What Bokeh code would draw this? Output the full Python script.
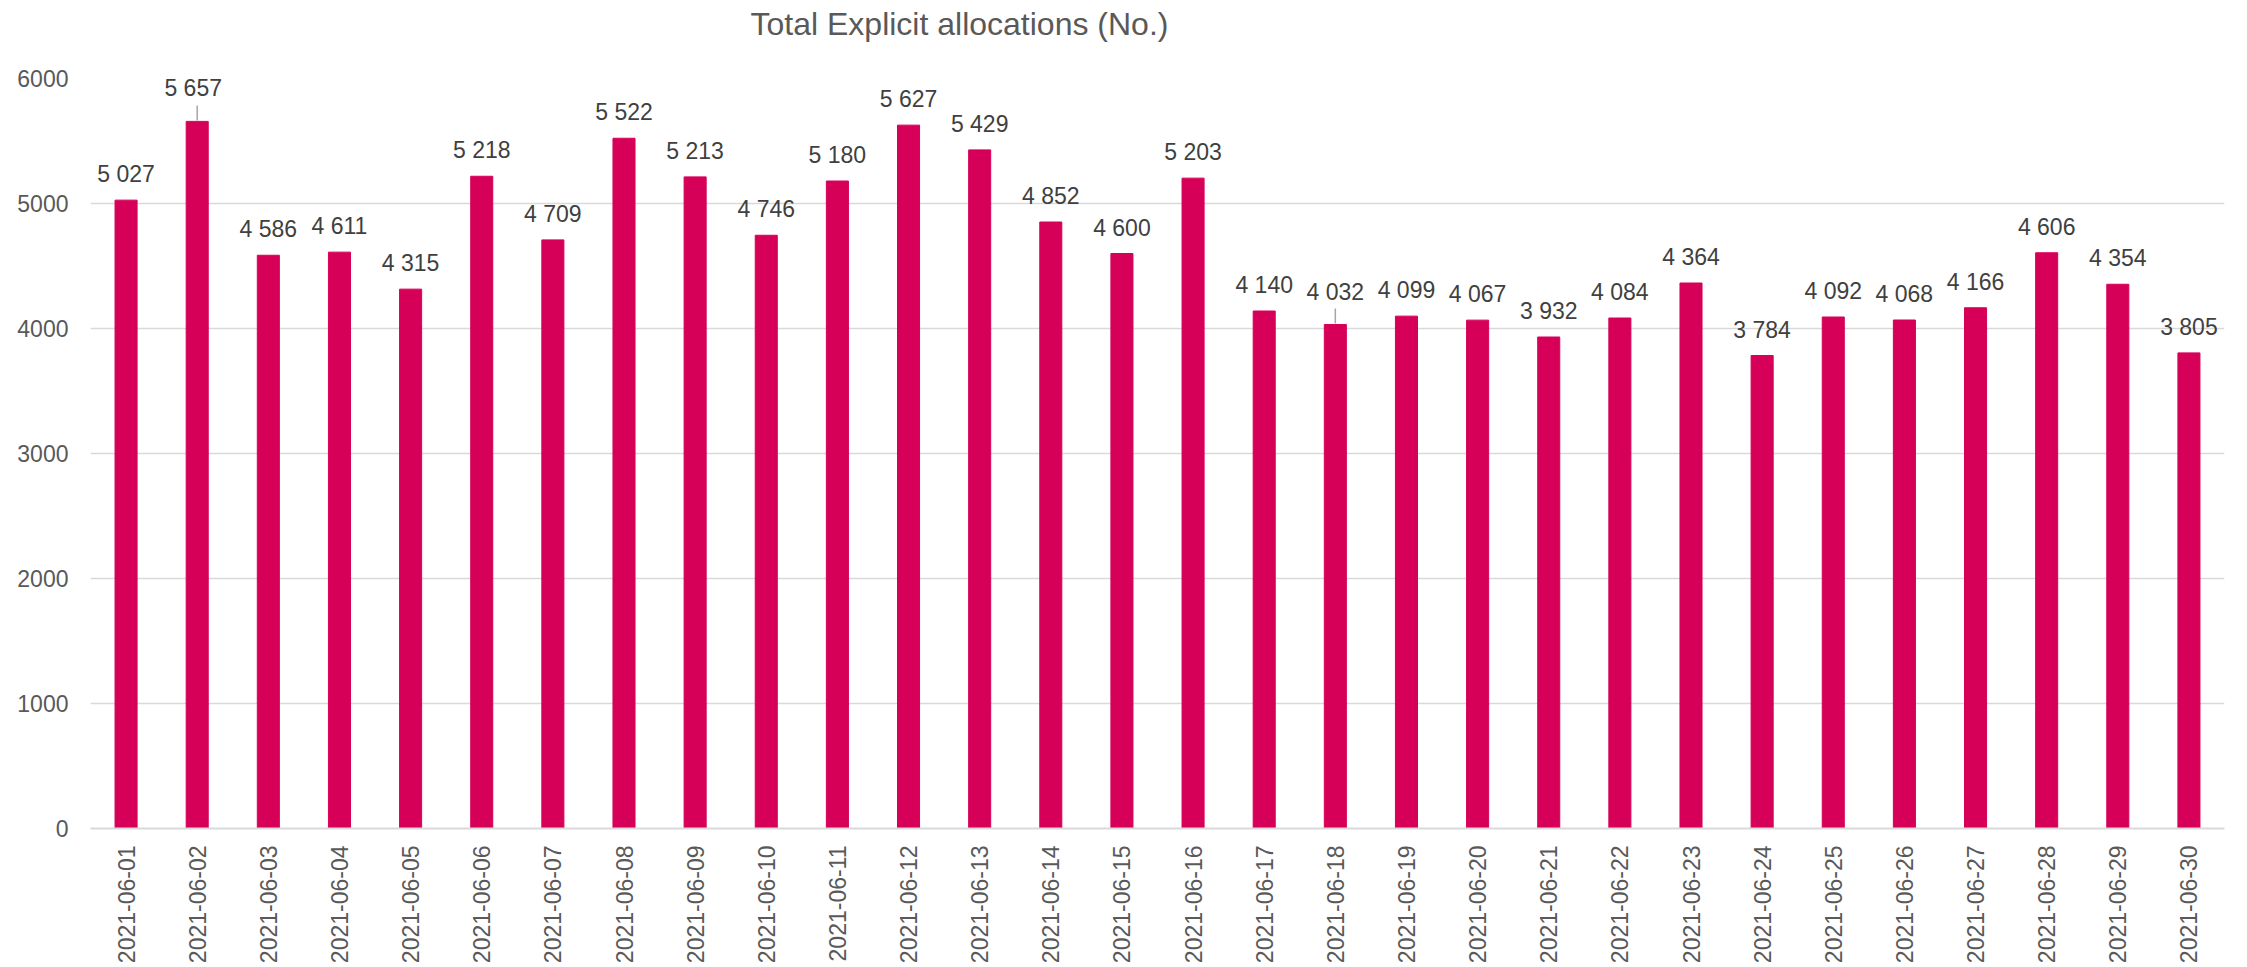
import math
from bokeh.plotting import figure
from bokeh.models import (ColumnDataSource, FactorRange, Range1d, FixedTicker,
                          LabelSet, Title)
from bokeh.core.properties import value
from bokeh.embed import file_html
from bokeh.resources import INLINE

dates = ["2021-06-%02d" % d for d in range(1, 31)]
values = [5027, 5657, 4586, 4611, 4315, 5218, 4709, 5522, 5213, 4746,
          5180, 5627, 5429, 4852, 4600, 5203, 4140, 4032, 4099, 4067,
          3932, 4084, 4364, 3784, 4092, 4068, 4166, 4606, 4354, 3805]
y_ticks = [0, 1000, 2000, 3000, 4000, 5000, 6000]
title_text = "Total Explicit allocations (No.)"

FONT = "Liberation Sans"
BAR = "#D70058"
GRID = "#d9d9d9"

# labels moved up with a leader line (as in the reference)
leader_dates = ["2021-06-02", "2021-06-18"]

labels = [f"{v:,}".replace(",", " ") for v in values]
y_off = [33 if d in leader_dates else 26 for d in dates]
x_off = [-4 if d == "2021-06-02" else 0 for d in dates]

src = ColumnDataSource(dict(date=dates, value=values, label=labels,
                            yoff=y_off, xoff=x_off))

W, H = 2240, 967
p = figure(x_range=FactorRange(*dates, range_padding=0),
           y_range=Range1d(0, 6000),
           width=W, height=H, output_backend="svg", toolbar_location=None,
           min_border_left=90, min_border_right=16, min_border_top=78,
           min_border_bottom=139)
p.outline_line_color = None
p.background_fill_color = "white"
p.border_fill_color = "white"

p.vbar(x="date", top="value", width=0.31, source=src,
       fill_color=BAR, line_color=BAR)

# leader lines (pixel offsets converted to data units: 8 units per px)
upp = 6000 / 750.0
lx = []
ly0 = []
ly1 = []
for d, v in zip(dates, values):
    if d in leader_dates:
        lx.append(d)
        ly0.append(v + 1 * upp)
        ly1.append(v + 16 * upp)
p.segment(x0=lx, y0=ly0, x1=lx, y1=ly1, line_color="#a6a6a6", line_width=1.5)

p.add_layout(LabelSet(x="date", y="value", text="label", source=src,
                      x_offset="xoff", y_offset="yoff",
                      text_align="center", text_baseline="middle",
                      text_font=value(FONT), text_font_size=value("23px"),
                      text_color=value("#404040")))

# axes
p.xgrid.grid_line_color = None
p.ygrid.grid_line_color = GRID
p.ygrid.grid_line_width = 1.5
p.yaxis.ticker = FixedTicker(ticks=y_ticks)
p.yaxis.axis_line_color = None
p.yaxis.major_tick_line_color = None
p.yaxis.minor_tick_line_color = None
p.yaxis.major_tick_out = 0
p.yaxis.major_label_standoff = 22
p.yaxis.major_label_text_font = FONT
p.yaxis.major_label_text_font_size = "23px"
p.yaxis.major_label_text_color = "#595959"

p.xaxis.axis_line_color = GRID
p.xaxis.axis_line_width = 2
p.xaxis.major_tick_line_color = None
p.xaxis.minor_tick_line_color = None
p.xaxis.major_tick_out = 0
p.xaxis.major_label_orientation = math.pi / 2
p.xaxis.major_label_standoff = 17
p.xaxis.major_label_text_font = FONT
p.xaxis.major_label_text_font_size = "23px"
p.xaxis.major_label_text_color = "#595959"

# spacer (closest to the frame) and the title above it
p.add_layout(Title(text=" ", standoff=9, text_font=FONT,
                   text_font_size="23px", text_color="white"), "above")
p.add_layout(Title(text=title_text, align="left", offset=660, standoff=0,
                   text_font=FONT, text_font_size="32px",
                   text_font_style="normal", text_color="#595959"), "above")

html = file_html(p, INLINE)
open("out.html", "w").write(html)
